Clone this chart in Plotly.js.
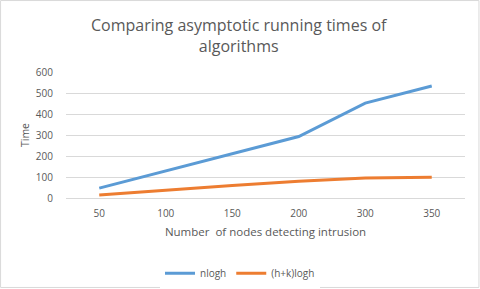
<!DOCTYPE html>
<html><head><meta charset="utf-8">
<script src="https://cdn.plot.ly/plotly-3.0.1.min.js"></script>
<style>body{margin:0;padding:0;background:#fff}#c{width:480px;height:289px}</style>
</head><body><div id="c"></div>
<script>
const categories = ["50","100","150","200","300","350"];
const nlogh = [47, 130, 212, 293, 452, 533];
const hklogh = [14, 38, 60, 80, 95, 99];
const yTicks = [0,100,200,300,400,500,600];

const font = "Open Sans, Liberation Sans, sans-serif";
const traces = [
  {x: categories, y: nlogh, name: "nlogh", type: "scatter", mode: "lines",
   line: {color: "#5b9bd5", width: 3}},
  {x: categories, y: hklogh, name: "(h+k)logh", type: "scatter", mode: "lines",
   line: {color: "#ed7d31", width: 3}}
];
const layout = {
  width: 480, height: 289,
  margin: {l: 66, r: 15, t: 72, b: 91},
  paper_bgcolor: "#fff", plot_bgcolor: "#fff",
  font: {family: font, color: "#595959", size: 10},
  xaxis: {type: "category", range: [-0.5, 5.5], showgrid: false, showline: true, linecolor: "#d9d9d9",
          automargin: false,
          ticks: "outside", ticklen: 6, tickcolor: "rgba(0,0,0,0)", tickfont: {size: 10}, zeroline: false,
          title: {text: "Number  of nodes detecting intrusion", font: {size: 11.5}, standoff: 8}},
  yaxis: {range: [0, 600], tickvals: yTicks, gridcolor: "#d9d9d9", zeroline: false, automargin: false,
          showline: false, ticks: "outside", ticklen: 10, tickcolor: "rgba(0,0,0,0)", tickfont: {size: 10},
          title: {text: "Time", font: {size: 10.5}, standoff: 4}},
  legend: {orientation: "h", x: 0.5, xref: "container", xanchor: "center", y: 0.105, yref: "container", yanchor: "top",
           font: {size: 10}, itemwidth: 30},
  annotations: [{text: "Comparing asymptotic running times of<br>algorithms", xref: "paper", yref: "paper",
                 x: 0.435, y: 1.29, xanchor: "center", yanchor: "middle", showarrow: false,
                 font: {size: 16, color: "#595959", family: font}}],
  shapes: [{type: "rect", xref: "paper", yref: "paper", x0: -0.164, x1: 1.035, y0: -0.71, y1: 1.567,
            line: {color: "#d9d9d9", width: 1}, layer: "below"}]
};
Plotly.newPlot("c", traces, layout, {displayModeBar: false, staticPlot: true});
</script></body></html>
